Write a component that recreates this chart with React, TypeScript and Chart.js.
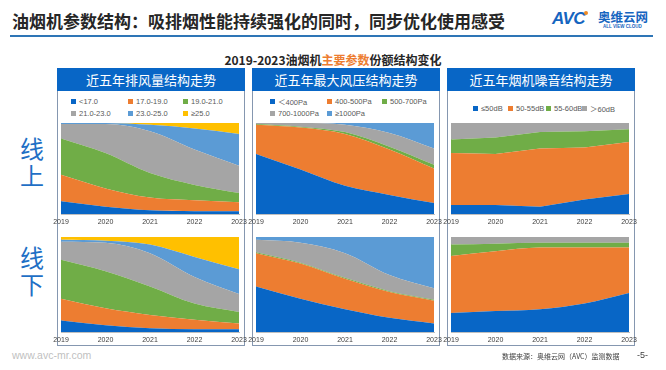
import React, { useEffect, useRef } from "react";
import { Chart, registerables } from "chart.js";

Chart.register(...registerables);

const years = ["2019", "2020", "2021", "2022", "2023"];

// 排风量 (air volume) — series bottom → top
const airLabels = ["<17.0", "17.0-19.0", "19.0-21.0", "21.0-23.0", "23.0-25.0", "≥25.0"];
const airOnline = [
  [14, 8, 4, 3, 3],
  [29, 20, 14, 12, 10],
  [40, 39, 27, 17, 10],
  [16, 32, 46, 39, 30],
  [1, 1, 7, 23, 35],
  [0, 0, 2, 6, 12],
];
const airOffline = [
  [12, 7, 4, 3, 3],
  [23, 18, 14, 10, 6],
  [41, 39, 30, 17, 12],
  [19, 30, 35, 28, 19],
  [2, 2, 9, 21, 26],
  [3, 4, 8, 21, 34],
];

// 最大风压 (max pressure)
const pressLabels = ["＜400Pa", "400-500Pa", "500-700Pa", "700-1000Pa", "≥1000Pa"];
const pressOnline = [
  [66, 49, 31, 21, 12],
  [32, 46, 57, 50, 38],
  [1, 1, 2, 3, 4],
  [1, 4, 8, 15, 18],
  [0, 0, 2, 11, 28],
];
const pressOffline = [
  [48, 35, 24, 15, 9],
  [35, 37, 32, 27, 24],
  [1, 1, 1, 1, 1],
  [13, 21, 26, 17, 12],
  [3, 6, 17, 40, 54],
];

// 噪音 (noise)
const noiseLabels = ["≤50dB", "50-55dB", "55-60dB", "＞60dB"];
const noiseOnline = [
  [10, 10, 8, 16, 22],
  [57, 56, 64, 57, 57],
  [15, 18, 18, 18, 14],
  [18, 16, 10, 9, 7],
];
const noiseOffline = [
  [20, 22, 24, 30, 41],
  [60, 63, 65, 59, 48],
  [12, 8, 5, 5, 5],
  [8, 7, 6, 6, 6],
];

const panelTitles = ["近五年排风量结构走势", "近五年最大风压结构走势", "近五年烟机噪音结构走势"];

const C_BLUE = "#0866C6";
const C_ORANGE = "#ED7D31";
const C_GREEN = "#70AD47";
const C_GRAY = "#A5A5A5";
const C_LBLUE = "#5B9BD5";
const C_YELLOW = "#FFC000";

const airColors = [C_BLUE, C_ORANGE, C_GREEN, C_GRAY, C_LBLUE, C_YELLOW];
const pressColors = [C_BLUE, C_ORANGE, C_GREEN, C_GRAY, C_LBLUE];
const noiseColors = [C_BLUE, C_ORANGE, C_GREEN, C_GRAY];

const CJK = '"Noto Sans CJK SC", "Noto Sans", sans-serif';
const LAT = '"Liberation Sans", Arial, "Noto Sans CJK SC", sans-serif';

const PAD = 14;
const AXIS_H = 14;

type AreaProps = {
  series: number[][];
  colors: string[];
  labels: string[];
  left: number;
  top: number;
  plotW: number;
  plotH: number;
  smooth: boolean;
};

function AreaChart({ series, colors, labels, left, top, plotW, plotH, smooth }: AreaProps) {
  const ref = useRef<HTMLCanvasElement>(null);
  useEffect(() => {
    if (!ref.current) return;
    const chart = new Chart(ref.current, {
      type: "line",
      data: {
        labels: years,
        datasets: series.map((d, i) => ({
          label: labels[i],
          data: d,
          backgroundColor: colors[i],
          borderColor: colors[i],
          borderWidth: 0,
          pointRadius: 0,
          pointHoverRadius: 0,
          fill: i === 0 ? "origin" : "-1",
          tension: smooth ? 0.4 : 0,
          cubicInterpolationMode: smooth ? "monotone" : "default",
        })),
      },
      options: {
        animation: false,
        responsive: false,
        maintainAspectRatio: false,
        events: [],
        layout: { padding: { left: PAD, right: PAD, top: 0, bottom: 0 } },
        plugins: { legend: { display: false }, tooltip: { enabled: false } },
        scales: {
          x: {
            offset: false,
            grid: { display: false, drawTicks: false },
            border: { display: true, color: "#BFBFBF" },
            ticks: {
              color: "#404040",
              font: { size: 7, family: LAT },
              padding: 4,
              maxRotation: 0,
              autoSkip: false,
            },
            afterFit: (s: any) => {
              s.height = AXIS_H;
            },
          },
          y: {
            stacked: true,
            min: 0,
            max: 100,
            ticks: { display: false },
            grid: { display: false, drawTicks: false },
            border: { display: true, color: "#BFBFBF" },
            afterFit: (s: any) => {
              s.width = 0;
            },
          },
        },
      } as any,
    });
    return () => chart.destroy();
  }, []);
  const w = plotW + PAD * 2;
  const h = plotH + AXIS_H;
  return (
    <canvas
      ref={ref}
      width={w}
      height={h}
      style={{ position: "absolute", left: left - PAD, top, width: w, height: h }}
    />
  );
}

type LegendItem = { label: string; color: string; x: number; y: number };

function Legend({ items }: { items: LegendItem[] }) {
  return (
    <>
      {items.map((it, i) => (
        <div
          key={i}
          style={{
            position: "absolute",
            left: it.x,
            top: it.y - 6,
            height: 12,
            display: "flex",
            alignItems: "center",
            whiteSpace: "nowrap",
            fontFamily: LAT,
            fontSize: 7.5,
            color: "#595959",
          }}
        >
          <span style={{ display: "inline-block", width: 5, height: 5, background: it.color, marginRight: 3 }} />
          <span>{it.label}</span>
        </div>
      ))}
    </>
  );
}

const panelLefts = [57, 252, 447];
const PANEL_W = 188;
const PANEL_TOP = 68;
const PANEL_BOTTOM = 345;
const HEADER_H = 23;
const plotLefts = [61, 256, 451];
const PLOT_W = 178;
const TOP_Y = 123;
const TOP_H = 91;
const BOT_Y = 237;
const BOT_H = 95;

export default function App() {
  const airLegendX = [71, 128, 183];
  const pressLegendX = [270, 327, 382];
  const noiseLegendX = [473, 508, 546, 582];
  const legendRowY = [101, 113];

  const airItems: LegendItem[] = airLabels.map((l, i) => ({
    label: l,
    color: airColors[i],
    x: airLegendX[i % 3],
    y: legendRowY[Math.floor(i / 3)],
  }));
  const pressItems: LegendItem[] = pressLabels.map((l, i) => ({
    label: l,
    color: pressColors[i],
    x: pressLegendX[i % 3],
    y: legendRowY[Math.floor(i / 3)],
  }));
  const noiseItems: LegendItem[] = noiseLabels.map((l, i) => ({
    label: l,
    color: noiseColors[i],
    x: noiseLegendX[i],
    y: 108,
  }));

  return (
    <div
      style={{
        position: "fixed",
        left: 0,
        top: 0,
        width: 666,
        height: 370,
        background: "#FFFFFF",
        overflow: "hidden",
        fontFamily: CJK,
      }}
    >
      {/* Title */}
      <div
        style={{
          position: "absolute",
          left: 12,
          top: 9,
          fontSize: 17,
          fontWeight: 700,
          lineHeight: "24px",
          color: "#262626",
          whiteSpace: "nowrap",
          fontFamily: CJK,
        }}
      >
        油烟机参数结构：吸排烟性能持续强化的同时，同步优化使用感受
      </div>
      {/* Logo */}
      <div
        style={{
          position: "absolute",
          left: 552,
          top: 8,
          fontFamily: LAT,
          fontSize: 17,
          fontWeight: 700,
          fontStyle: "italic",
          color: "#1565C0",
          lineHeight: "22px",
          letterSpacing: -0.5,
        }}
      >
        AVC
      </div>
      <div style={{ position: "absolute", left: 584, top: 11, width: 4, height: 4, borderRadius: 2, background: "#F08A24" }} />
      <div
        style={{
          position: "absolute",
          left: 598,
          top: 8,
          fontSize: 12.5,
          fontWeight: 700,
          color: "#1565C0",
          lineHeight: "17px",
          whiteSpace: "nowrap",
        }}
      >
        奥维云网
      </div>
      <div
        style={{
          position: "absolute",
          left: 603,
          top: 24,
          fontSize: 4.5,
          fontFamily: LAT,
          fontWeight: 700,
          color: "#1565C0",
          whiteSpace: "nowrap",
          lineHeight: "6px",
        }}
      >
        ALL VIEW CLOUD
      </div>
      {/* Blue rule */}
      <div style={{ position: "absolute", left: 10, top: 35, width: 643, height: 2, background: "#2E75B6" }} />

      {/* Subtitle */}
      <div
        style={{
          position: "absolute",
          left: 133,
          width: 400,
          top: 52,
          textAlign: "center",
          fontSize: 12,
          fontWeight: 700,
          lineHeight: "16px",
          color: "#262626",
          whiteSpace: "nowrap",
        }}
      >
        2019-2023油烟机<span style={{ color: "#ED7D31" }}>主要参数</span>份额结构变化
      </div>

      {/* Row labels */}
      {["线上", "线下"].map((t, i) => (
        <div
          key={t}
          style={{
            position: "absolute",
            left: 19,
            width: 26,
            top: i === 0 ? 134 : 243,
            fontSize: 24,
            lineHeight: "27px",
            color: "#1F6FC5",
            textAlign: "center",
          }}
        >
          {t[0]}
          <br />
          {t[1]}
        </div>
      ))}

      {/* Panels */}
      {panelLefts.map((pl, i) => (
        <div key={i}>
          <div
            style={{
              position: "absolute",
              left: pl,
              top: PANEL_TOP,
              width: PANEL_W - 2,
              height: PANEL_BOTTOM - PANEL_TOP - 1,
              border: "1px solid #8597B0",
            }}
          />
          <div
            style={{
              position: "absolute",
              left: pl,
              top: PANEL_TOP,
              width: PANEL_W,
              height: HEADER_H,
              background: "#0866C6",
              color: "#FFFFFF",
              fontSize: 13,
              lineHeight: `${HEADER_H}px`,
              textAlign: "center",
              whiteSpace: "nowrap",
            }}
          >
            {panelTitles[i]}
          </div>
        </div>
      ))}

      <Legend items={airItems} />
      <Legend items={pressItems} />
      <Legend items={noiseItems} />

      <AreaChart series={airOnline} colors={airColors} labels={airLabels} left={plotLefts[0]} top={TOP_Y} plotW={PLOT_W} plotH={TOP_H} smooth={true} />
      <AreaChart series={pressOnline} colors={pressColors} labels={pressLabels} left={plotLefts[1]} top={TOP_Y} plotW={PLOT_W} plotH={TOP_H} smooth={true} />
      <AreaChart series={noiseOnline} colors={noiseColors} labels={noiseLabels} left={plotLefts[2]} top={TOP_Y} plotW={PLOT_W} plotH={TOP_H} smooth={false} />

      <AreaChart series={airOffline} colors={airColors} labels={airLabels} left={plotLefts[0]} top={BOT_Y} plotW={PLOT_W} plotH={BOT_H} smooth={true} />
      <AreaChart series={pressOffline} colors={pressColors} labels={pressLabels} left={plotLefts[1]} top={BOT_Y} plotW={PLOT_W} plotH={BOT_H} smooth={true} />
      <AreaChart series={noiseOffline} colors={noiseColors} labels={noiseLabels} left={plotLefts[2]} top={BOT_Y} plotW={PLOT_W} plotH={BOT_H} smooth={true} />

      {/* Footer */}
      <div
        style={{
          position: "absolute",
          left: 12,
          top: 348,
          fontFamily: LAT,
          fontSize: 10.5,
          color: "#BFBFBF",
          lineHeight: "14px",
        }}
      >
        www.avc-mr.com
      </div>
      <div
        style={{
          position: "absolute",
          left: 502,
          top: 351,
          fontSize: 7,
          color: "#404040",
          lineHeight: "10px",
          whiteSpace: "nowrap",
        }}
      >
        数据来源：奥维云网（AVC）监测数据
      </div>
      <div
        style={{
          position: "absolute",
          left: 637,
          top: 349,
          fontFamily: LAT,
          fontSize: 9,
          color: "#404040",
          lineHeight: "12px",
        }}
      >
        -5-
      </div>
    </div>
  );
}
